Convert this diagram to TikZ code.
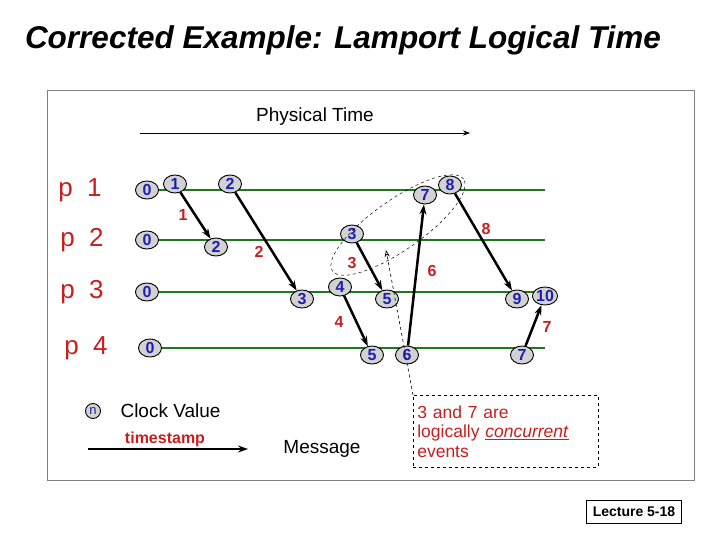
\documentclass[tikz,border=0pt]{standalone}
\usepackage{fontspec}
\setmainfont{Liberation Sans}
\usetikzlibrary{shapes.geometric,arrows.meta}
\definecolor{lg}{RGB}{30,120,30}
\definecolor{rd}{RGB}{200,30,30}
\definecolor{bl}{RGB}{30,30,180}
\begin{document}
\begin{tikzpicture}[x=1pt,y=-1pt,
 ev/.style={ellipse,draw=black,line width=0.9pt,fill=gray!35,minimum width=23pt,minimum height=18pt,inner sep=0pt,text=bl,font=\bfseries\fontsize{16}{16}\selectfont},
 ln/.style={lg,line width=2.6pt},
 msg/.style={-{Stealth[length=10pt,width=7pt]},line width=2.5pt},
 ts/.style={text=rd,font=\bfseries\fontsize{16}{16}\selectfont},
 pl/.style={text=rd,font=\fontsize{26}{26}\selectfont}]
\useasboundingbox (0,0) rectangle (720,540);
\node[font=\bfseries\itshape\fontsize{31.5}{31.5}\selectfont] (title) at (343,40) {Corrected Example: Lamport Logical Time};
\draw[gray] (47,90) rectangle (694,480);
\node[font=\fontsize{19}{19}\selectfont] (pt) at (315,117) {Physical Time};
\coordinate (pa) at (140,133); \coordinate (pb) at (470,133);
\draw[-{Stealth[length=7pt]},line width=0.8pt] (pa) -- (pb);
\node[pl] (p1) at (80,190) {p\ \ 1};
\node[pl] (p2) at (82,240) {p\ \ 2};
\node[pl] (p3) at (82,292) {p\ \ 3};
\node[pl] (p4) at (86,348) {p\ \ 4};
\foreach \y/\n in {190/a,240/b,292/c,348/d}{\coordinate (s\n) at (150,\y); \coordinate (e\n) at (545,\y); \draw[ln] (s\n) -- (e\n);}
\node[ev] (a0) at (147,190) {0};
\node[ev] (a1) at (175,184) {1};
\node[ev] (a2) at (230,184) {2};
\node[ev] (a7) at (425,195) {7};
\node[ev] (a8) at (450,185) {8};
\node[ev] (b0) at (147,240) {0};
\node[ev] (b2) at (216,247) {2};
\node[ev] (b3) at (352,234) {3};
\node[ev] (c0) at (147,292) {0};
\node[ev] (c3) at (302,299) {3};
\node[ev] (c4) at (340,287) {4};
\node[ev] (c5) at (387,299) {5};
\node[ev] (c9) at (517,299) {9};
\node[ev] (c10) at (545,296) {10};
\node[ev] (d0) at (150,348) {0};
\node[ev] (d5) at (372,355) {5};
\node[ev] (d6) at (407,355) {6};
\node[ev] (d7) at (522,355) {7};
\draw[msg] (a1) -- (b2);
\draw[msg] (a2) -- (c3);
\draw[msg] (b3) -- (c5);
\draw[msg] (c4) -- (d5);
\draw[msg] (d6) -- (a7);
\draw[msg] (a8) -- (c9);
\draw[msg] (d7) -- (c10);
\node[ts] (t1) at (183,215) {1};
\node[ts] (t2) at (259,252) {2};
\node[ts] (t3) at (352,263) {3};
\node[ts] (t4) at (339,322) {4};
\node[ts] (t6) at (432,271) {6};
\node[ts] (t8) at (486,229) {8};
\node[ts] (t7) at (547,327) {7};
\draw[dashed,line width=0.5pt,rotate around={35:(398,225)}] (398,225) ellipse (80pt and 25pt);
\node[draw,dashed,line width=0.6pt,text=rd,align=left,anchor=north west,inner sep=4pt,text width=177pt,minimum height=72pt,font=\fontsize{17.5}{19.5}\selectfont] (box) at (413,395) {3 and 7 are\\logically \underline{\textit{concurrent}}\\events};
\coordinate (ct) at (386,250);
\draw[dashed,line width=0.6pt,-{Stealth[length=7pt,open]}] (box.north west) -- (ct);
\node[ev,minimum width=15pt,minimum height=15pt,font=\fontsize{13}{13}\selectfont] (leg) at (93,411) {n};
\node[font=\fontsize{19}{19}\selectfont,anchor=west] (cv) at (117,411) {Clock Value};
\coordinate (ma) at (88,449); \coordinate (mb) at (248,449);
\draw[msg] (ma) -- (mb);
\node[ts,font=\bfseries\fontsize{16}{16}\selectfont] (tsl) at (165,439) {timestamp};
\node[font=\fontsize{19}{19}\selectfont] (ml) at (322,449) {Message};
\node[draw,font=\bfseries\fontsize{14}{14}\selectfont,minimum width=95pt,minimum height=23pt,inner sep=1pt] (lec) at (634,512) {Lecture 5-18};
\end{tikzpicture}
\end{document}
